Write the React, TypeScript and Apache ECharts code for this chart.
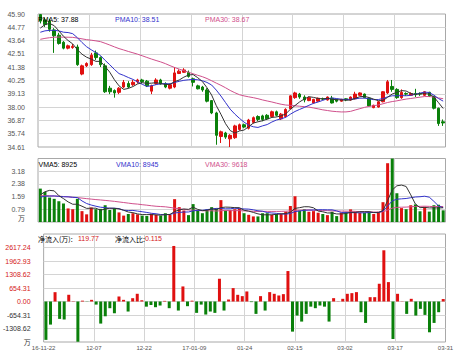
import React, { useEffect, useRef } from 'react';
import * as echarts from 'echarts';

const dates: string[] = [
  '16-11-22', '16-11-23', '16-11-24', '16-11-25', '16-11-28', '16-11-29', '16-11-30',
  '12-01', '12-02', '12-05', '12-06', '12-07', '12-08', '12-09', '12-12', '12-13', '12-14', '12-15', '12-16',
  '12-19', '12-20', '12-21', '12-22', '12-23', '12-26', '12-27', '12-28', '12-29', '12-30',
  '17-01-03', '01-04', '01-05', '01-06', '01-09', '01-10', '01-11', '01-12', '01-13', '01-16', '01-17',
  '01-18', '01-19', '01-20', '01-23', '01-24', '01-25', '01-26',
  '02-03', '02-06', '02-07', '02-08', '02-09', '02-10', '02-13', '02-14', '02-15', '02-16', '02-17',
  '02-20', '02-21', '02-22', '02-23', '02-24', '02-27', '02-28',
  '03-01', '03-02', '03-03', '03-06', '03-07', '03-08', '03-09', '03-10', '03-13', '03-14', '03-15',
  '03-16', '03-17', '03-20', '03-21', '03-22', '03-23', '03-24', '03-27', '03-28', '03-29', '03-30', '03-31',
];

const opens: number[] = [
  45.85, 45.40, 45.30, 44.55, 44.10, 43.50, 43.00, 43.05, 43.10, 40.80,
  41.50, 41.60, 42.60, 42.20, 41.50, 39.60, 39.40, 39.25, 39.70, 40.00,
  39.90, 40.15, 40.30, 40.20, 39.35, 40.00, 40.30, 40.00, 39.60, 39.70,
  40.85, 40.95, 40.95, 40.40, 39.80, 39.70, 39.45, 38.55, 37.50, 35.50,
  35.80, 35.30, 35.40, 36.10, 36.50, 36.20, 36.70, 37.20, 37.25, 37.30,
  37.20, 37.60, 37.00, 37.20, 37.85, 38.80, 39.10, 38.85, 38.55, 38.35,
  38.50, 38.70, 38.60, 38.75, 38.65, 38.50, 38.70, 38.60, 38.70, 39.00,
  39.10, 38.75, 37.95, 38.00, 38.45, 39.20, 39.75, 39.50, 38.80, 39.15,
  39.00, 39.15, 39.15, 39.00, 39.25, 38.90, 37.90, 36.75,
];
const closes: number[] = [
  45.30, 45.00, 44.60, 44.05, 43.40, 43.00, 43.20, 43.15, 41.60, 41.50,
  41.70, 42.40, 42.20, 41.60, 39.30, 39.30, 39.20, 39.60, 40.10, 39.70,
  40.10, 40.30, 40.15, 39.80, 39.80, 40.30, 39.95, 39.70, 39.90, 40.90,
  41.05, 41.15, 40.60, 40.10, 39.55, 39.45, 38.50, 37.50, 35.60, 35.90,
  35.45, 35.60, 36.40, 36.50, 36.30, 36.90, 37.10, 36.95, 36.95, 37.00,
  37.60, 37.30, 37.40, 37.80, 38.95, 39.20, 38.85, 38.60, 38.80, 38.65,
  38.75, 38.68, 38.85, 38.35, 38.50, 38.65, 38.60, 38.85, 39.10, 39.20,
  38.80, 38.10, 38.15, 38.45, 39.30, 40.15, 39.50, 38.80, 39.25, 39.10,
  39.15, 39.05, 39.10, 39.30, 38.95, 37.90, 36.60, 36.65,
];
const lows: number[] = [
  45.10, 44.80, 44.40, 42.60, 43.30, 42.90, 42.90, 42.95, 41.50, 40.70,
  41.40, 41.50, 42.00, 41.40, 39.20, 39.10, 38.80, 39.10, 39.60, 39.60,
  39.80, 40.00, 40.00, 39.70, 39.10, 39.90, 39.90, 39.60, 39.50, 39.60,
  40.80, 40.90, 40.50, 39.75, 39.50, 39.30, 38.40, 37.40, 34.80, 34.95,
  35.30, 34.61, 35.30, 36.00, 36.20, 36.10, 36.60, 36.80, 36.80, 36.90,
  37.10, 37.20, 36.90, 37.10, 37.80, 38.70, 38.70, 38.40, 38.50, 38.30,
  38.45, 38.60, 38.55, 38.30, 38.40, 38.45, 38.50, 38.55, 38.65, 38.95,
  38.75, 38.05, 37.90, 37.95, 38.40, 39.10, 39.30, 38.70, 38.70, 38.95,
  38.95, 38.85, 38.95, 38.95, 38.85, 37.80, 36.40, 36.40,
];
const highs: number[] = [
  45.90, 45.60, 45.50, 44.70, 44.30, 43.60, 43.30, 43.35, 43.30, 41.60,
  41.80, 42.60, 42.80, 42.30, 41.70, 39.80, 39.50, 39.70, 40.30, 40.20,
  40.30, 40.40, 40.40, 40.30, 39.90, 40.45, 40.40, 40.10, 40.00, 41.40,
  41.20, 41.30, 41.10, 40.50, 39.90, 39.80, 39.60, 38.60, 37.60, 36.00,
  35.90, 35.70, 36.50, 36.60, 36.60, 37.00, 37.20, 37.30, 37.35, 37.40,
  37.70, 37.70, 37.50, 37.90, 39.00, 39.30, 39.20, 39.00, 38.90, 38.70,
  38.80, 38.80, 38.90, 38.95, 38.70, 38.70, 38.75, 38.90, 39.30, 39.25,
  39.15, 38.80, 38.20, 38.50, 39.35, 40.30, 40.30, 39.60, 39.50, 39.25,
  39.25, 39.55, 39.25, 39.35, 39.30, 38.95, 37.95, 36.95,
];
// closes of the 29 sessions before the window (estimated so the MA lines start where the reference's do)
const priorCloses: number[] = [
  42.6, 42.8, 42.9, 43.0, 43.2, 43.4, 43.5, 43.3, 43.6, 43.7,
  43.8, 43.9, 43.6, 43.5, 43.7, 43.9, 44.0, 43.6, 43.5, 43.5,
  43.8, 44.2, 44.0, 43.9, 44.1, 43.5, 44.1, 45.0, 45.6,
];

// volume, in 万
const volumes: number[] = [
  2.09, 1.88, 1.53, 1.45, 1.30, 1.16, 0.85, 0.80, 1.45, 0.68,
  0.48, 0.91, 0.80, 0.82, 1.05, 0.75, 0.87, 0.60, 0.40, 0.50,
  0.55, 0.48, 0.40, 0.38, 0.52, 0.45, 0.40, 0.55, 0.45, 1.43,
  0.93, 0.72, 0.43, 1.12, 0.75, 0.55, 0.80, 0.93, 0.85, 1.37,
  0.72, 0.75, 0.80, 0.85, 0.55, 0.45, 0.35, 0.35, 0.55, 0.55,
  0.45, 0.50, 0.50, 0.65, 1.00, 1.61, 0.72, 0.80, 0.64, 0.68,
  0.58, 0.50, 0.43, 0.64, 0.37, 0.58, 0.64, 0.79, 0.64, 0.58,
  0.58, 0.64, 0.50, 0.64, 1.24, 3.68, 3.97, 1.80, 0.87, 0.80,
  1.05, 1.10, 0.67, 0.95, 0.65, 1.05, 1.08, 0.73,
];
const priorVolumes: number[] = [
  1.9, 1.6, 2.1, 1.5, 1.8, 1.4, 1.7, 2.0, 1.6, 1.5,
  1.8, 1.7, 1.5, 1.9, 1.6, 1.8, 1.7, 1.5, 1.6, 1.7,
  1.2, 1.5, 1.3, 1.6, 1.4, 0.9, 1.1, 1.6, 2.8,
];

// net inflow, in 万
const netInflow: number[] = [
  -1860, -1119, 452, -843, -870, 326, 15, -1950, 40, -10,
  80, -150, -1070, -716, -325, -570, 243, 80, -486, 160,
  374, 60, -250, -170, -276, -195, 30, -324, 2692, -438,
  730, -227, 40, -551, -150, -632, -486, -551, 1103, -438,
  97, 649, 324, 260, 487, -30, -600, 260, -438, 454,
  373, 292, 357, 1476, -1460, -681, -973, -600, -250, -324,
  -195, -250, -973, 162, 10, 130, 373, 405, 454, -519,
  -1038, 210, 210, 860, 2482, 940, -1817, 373, 10, -600,
  130, -681, -357, -649, -1492, -1038, -519, 119.77,
];

const priceTicks: string[] = ['34.61', '35.74', '36.87', '38.00', '39.13', '40.25', '41.38', '42.51', '43.64', '44.77', '45.90'];
const volumeTicks: string[] = ['万', '0.79', '1.59', '2.38', '3.18', ''];
const netTicks: string[] = ['万', '-1308.62', '-654.31', '0.00', '654.31', '1308.62', '1962.93', '2617.24', ''];
const xTickLabels: string[] = ['16-11-22', '12-07', '12-22', '17-01-09', '01-24', '02-15', '03-02', '03-17', '03-31'];

const PRICE_MIN = 34.61;
const PRICE_MAX = 45.9;
const VOL_MAX = 3.975;
const NET_MIN = -1962.93;
const NET_MAX = 3271.55;

const UP = '#e01010';
const DOWN = '#0a800a';
const C_MA5 = '#333333';
const C_MA10 = '#3333cc';
const C_MA30 = '#d0508c';

function movingAverage(values: number[], prior: number[], n: number): number[] {
  const all = prior.concat(values);
  return values.map((_, i) => {
    const end = prior.length + i;
    let s = 0;
    for (let k = end - n + 1; k <= end; k++) s += all[k];
    return +(s / n).toFixed(4);
  });
}

const FONT = '"Liberation Sans", Arial, sans-serif';
const CJK = '"Noto Sans CJK SC", sans-serif';

export default function App() {
  const ref = useRef<HTMLDivElement>(null);
  useEffect(() => {
    if (!ref.current) return;
    const chart = echarts.init(ref.current, undefined, { renderer: 'svg' });

    const ma5 = movingAverage(closes, priorCloses, 5);
    const ma10 = movingAverage(closes, priorCloses, 10);
    const ma30 = movingAverage(closes, priorCloses, 30);
    const vma5 = movingAverage(volumes, priorVolumes, 5);
    const vma10 = movingAverage(volumes, priorVolumes, 10);
    const vma30 = movingAverage(volumes, priorVolumes, 30);

    const gridBase = { left: 38, width: 407.5, show: true, borderColor: '#a8a8a8', borderWidth: 1, backgroundColor: 'transparent' };
    const splitStyle = { show: true, lineStyle: { color: '#d4d4d4', width: 1 }, showMinLine: false, showMaxLine: false };

    const catAxis = (g: number) => ({ type: 'category', gridIndex: g, data: dates, boundaryGap: true, show: false });
    const auxX = (g: number) => ({
      type: 'value', gridIndex: g, min: 0, max: 88, interval: 11, position: 'bottom',
      axisLine: { show: false }, axisTick: { show: false },
      axisLabel: {
        show: g === 2, margin: 3, fontSize: 6, color: '#555', fontFamily: FONT,
        showMinLabel: true, showMaxLabel: true,
        formatter: (v: number) => xTickLabels[Math.round(v / 11)] ?? '',
      },
      splitLine: splitStyle,
    });

    const labelAxisBase = {
      type: 'value', position: 'left', interval: 1, min: 0,
      axisLine: { show: false }, axisTick: { show: false }, splitLine: splitStyle,
    };

    const lineSeries = (name: string, data: number[], color: string, axis: number) => ({
      type: 'line', name, data, xAxisIndex: axis, yAxisIndex: axis, showSymbol: false, symbol: 'none',
      lineStyle: { color, width: 1 }, itemStyle: { color }, silent: true, z: 3,
    });

    const legendText = (x: number, y: number, text: string, fill: string, font = FONT, size = 7) => ({
      type: 'text', x, y, z: 10,
      style: { text, fill, font: `${size}px ${font}`, verticalAlign: 'middle', align: 'left' },
    });

    chart.setOption({
      animation: false,
      backgroundColor: '#ffffff',
      grid: [
        { ...gridBase, top: 14, height: 133 },
        { ...gridBase, top: 158.5, height: 63.5 },
        { ...gridBase, top: 234, height: 108 },
      ],
      xAxis: [catAxis(0), catAxis(1), catAxis(2), auxX(0), auxX(1), auxX(2)],
      yAxis: [
        { type: 'value', gridIndex: 0, min: PRICE_MIN, max: PRICE_MAX, show: false },
        { type: 'value', gridIndex: 1, min: 0, max: VOL_MAX, show: false },
        { type: 'value', gridIndex: 2, min: NET_MIN, max: NET_MAX, show: false },
        {
          ...labelAxisBase, gridIndex: 0, max: 10,
          axisLabel: {
            margin: 13, fontSize: 7, color: '#555', fontFamily: FONT, showMinLabel: true, showMaxLabel: true,
            formatter: (v: number) => priceTicks[Math.round(v)] ?? '',
          },
        },
        {
          ...labelAxisBase, gridIndex: 1, max: 5,
          axisLabel: {
            margin: 13, fontSize: 7, color: '#555', fontFamily: FONT, showMinLabel: true, showMaxLabel: true,
            formatter: (v: number) => (Math.round(v) === 0 ? '{u|万}' : volumeTicks[Math.round(v)] ?? ''),
            rich: { u: { fontSize: 7, fontFamily: CJK, color: '#444', padding: [0, 0, 9, 0] } },
          },
        },
        {
          ...labelAxisBase, gridIndex: 2, max: 8,
          axisLabel: {
            margin: 13, fontSize: 7, color: '#555', fontFamily: FONT, showMinLabel: true, showMaxLabel: true,
            formatter: (v: number) => {
              const i = Math.round(v);
              const t = netTicks[i] ?? '';
              if (!t) return '';
              if (i === 0) return `{u|${t}}`;
              return t.startsWith('-') ? `{k|${t}}` : `{r|${t}}`;
            },
            rich: {
              u: { fontSize: 7, fontFamily: CJK, color: '#333' },
              k: { fontSize: 7, fontFamily: FONT, color: '#333' },
              r: { fontSize: 7, fontFamily: FONT, color: '#d42020' },
            },
          },
        },
      ],
      series: [
        {
          type: 'candlestick', name: 'K', xAxisIndex: 0, yAxisIndex: 0, barWidth: 3,
          data: opens.map((o, i) => [o, closes[i], lows[i], highs[i]]),
          itemStyle: { color: UP, color0: DOWN, borderColor: UP, borderColor0: DOWN, borderWidth: 1 },
          z: 2,
        },
        lineSeries('PMA30', ma30, C_MA30, 0),
        lineSeries('PMA10', ma10, C_MA10, 0),
        lineSeries('PMA5', ma5, C_MA5, 0),
        {
          type: 'bar', name: 'VOL', xAxisIndex: 1, yAxisIndex: 1, barWidth: 3,
          data: volumes.map((v, i) => ({ value: v, itemStyle: { color: closes[i] >= opens[i] ? UP : DOWN } })),
          z: 2,
        },
        lineSeries('VMA30', vma30, C_MA30, 1),
        lineSeries('VMA10', vma10, C_MA10, 1),
        lineSeries('VMA5', vma5, C_MA5, 1),
        {
          type: 'bar', name: 'NET', xAxisIndex: 2, yAxisIndex: 2, barWidth: 3,
          data: netInflow.map((v) => ({ value: v, itemStyle: { color: v >= 0 ? UP : DOWN } })),
          z: 2,
        },
      ],
      graphic: [
        legendText(38, 19.5, 'PMA5: 37.88', '#000'),
        legendText(115, 19.5, 'PMA10: 38.51', C_MA10),
        legendText(205, 19.5, 'PMA30: 38.67', C_MA30),
        legendText(38.5, 164, 'VMA5: 8925', '#000'),
        legendText(116, 164, 'VMA10: 8945', C_MA10),
        legendText(205, 164, 'VMA30: 9618', C_MA30),
        legendText(38, 238.5, '净流入(万):', '#000', CJK, 7),
        legendText(78, 238.5, '119.77', '#d42020'),
        legendText(115, 238.5, '净流入比:', '#000', CJK, 7),
        legendText(145, 238.5, '0.115', '#d42020'),
      ],
    });

    return () => chart.dispose();
  }, []);

  return <div ref={ref} style={{ position: 'fixed', left: 0, top: 0, width: 474, height: 354 }} />;
}
